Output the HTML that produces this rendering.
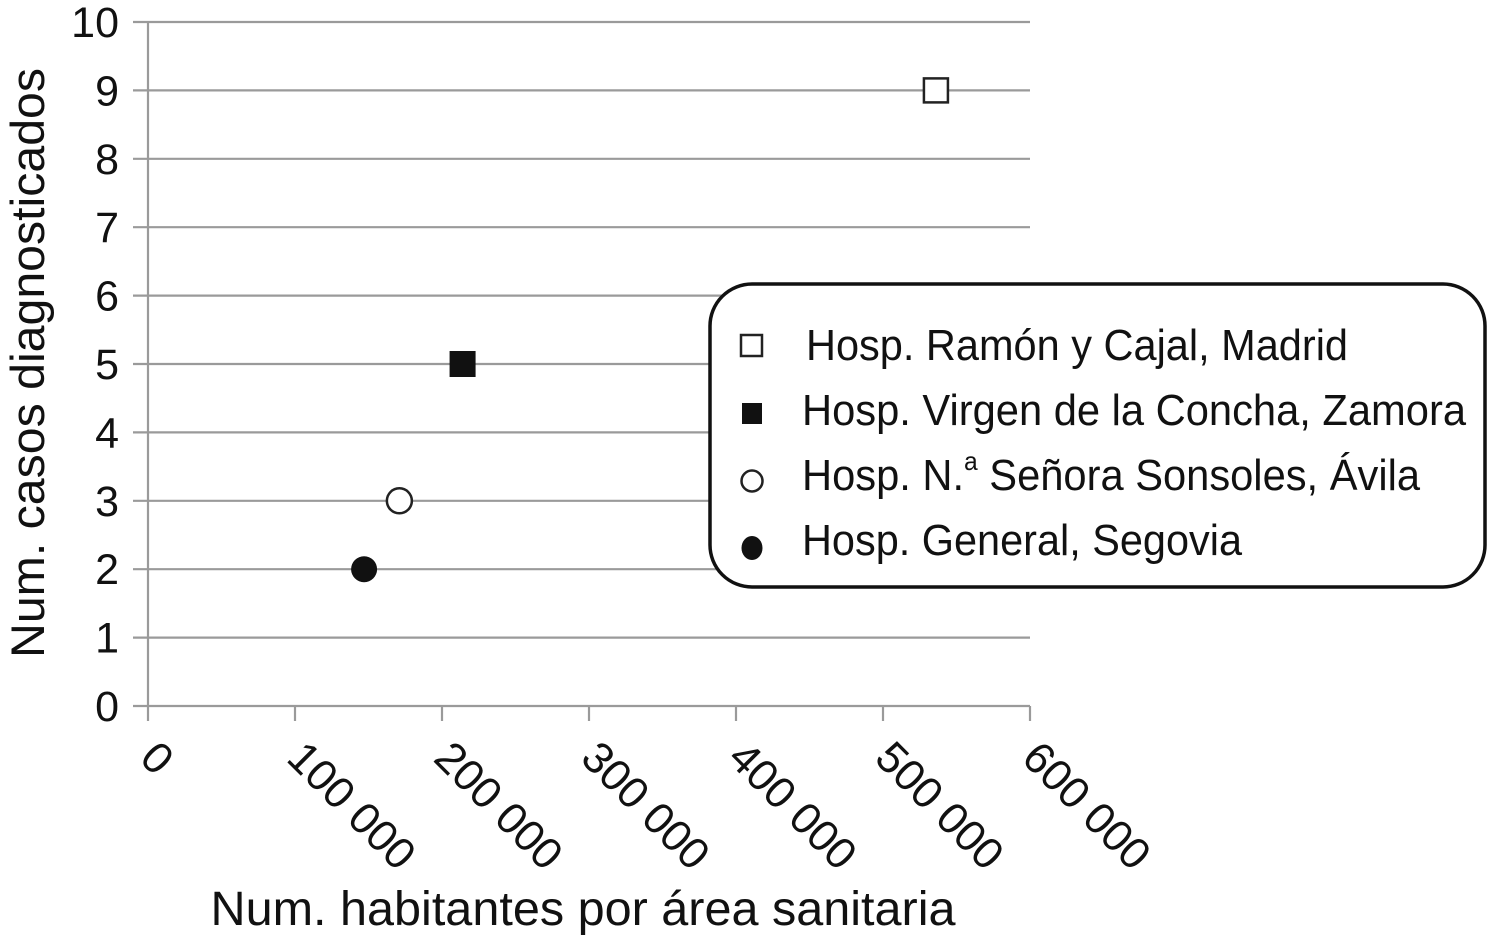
<!DOCTYPE html>
<html><head><meta charset="utf-8"><style>
html,body{margin:0;padding:0;background:#fff;}
svg{display:block;font-family:"Liberation Sans",sans-serif;}
</style></head><body>
<svg id="chart" width="1488" height="947" viewBox="0 0 1488 947">
<g id="grid"></g>
<g id="axes"></g>
<g id="points"></g>
<text x="44" y="363" font-size="47" text-anchor="middle" textLength="590" lengthAdjust="spacingAndGlyphs" transform="rotate(-90 44 363)" fill="#111">Num. casos diagnosticados</text>
<text x="583" y="925" font-size="48" text-anchor="middle" textLength="745" lengthAdjust="spacingAndGlyphs" fill="#111">Num. habitantes por área sanitaria</text>
<g>
<rect x="710" y="284" width="775" height="303" rx="42" ry="42" fill="#fff" stroke="#111" stroke-width="3.5"/>
<g>
<rect x="741" y="335" width="21" height="21" fill="#fff" stroke="#222" stroke-width="2.5"/>
<text x="806" y="360" font-size="44" textLength="542" lengthAdjust="spacingAndGlyphs" fill="#111">Hosp. Ramón y Cajal, Madrid</text></g>
<g>
<rect x="742" y="403" width="20" height="21" fill="#111"/>
<text x="802" y="425" font-size="44" textLength="664" lengthAdjust="spacingAndGlyphs" fill="#111">Hosp. Virgen de la Concha, Zamora</text></g>
<g>
<circle cx="752" cy="481" r="10.5" fill="#fff" stroke="#222" stroke-width="2.5"/>
<text x="802" y="490" font-size="44" textLength="618" lengthAdjust="spacingAndGlyphs" fill="#111">Hosp. N.<tspan dy="-20" font-size="26">a</tspan><tspan dy="20"> Señora Sonsoles, Ávila</tspan></text></g>
<g>
<ellipse cx="752" cy="548" rx="10.5" ry="12" fill="#111"/>
<text x="802" y="555" font-size="44" textLength="440" lengthAdjust="spacingAndGlyphs" fill="#111">Hosp. General, Segovia</text></g>
</g>
</svg>
<script>
const xTicks=[0,100000,200000,300000,400000,500000,600000];
const xTickLabels=["0","100 000","200 000","300 000","400 000","500 000","600 000"];
const yTicks=[0,1,2,3,4,5,6,7,8,9,10];
const names=["madrid","zamora","avila","segovia"];
const xValues=[536000,214000,171000,147000];
const yValues=[9,5,3,2];
const markers=["square-open","square-filled","circle-open","circle-filled"];
const NS="http://www.w3.org/2000/svg";
const X0=148,X1=1030,Y0=706,Y1=22;
function sx(v){return X0+(v-0)/600000*(X1-X0);}
function sy(v){return Y0-(v-0)/10*(Y0-Y1);}
function mk(t,a,p){const e=document.createElementNS(NS,t);for(const k in a)e.setAttribute(k,a[k]);p.appendChild(e);return e;}
const grid=document.getElementById('grid'),axes=document.getElementById('axes'),pts=document.getElementById('points');
yTicks.forEach((t)=>{
  const l=mk('line',{x1:133,x2:X1,y1:sy(t),y2:sy(t),stroke:'#9a9a9a','stroke-width':2.2},grid);
  
  
  const tx=mk('text',{x:119,y:sy(t)+15,'font-size':43,'text-anchor':'end',fill:'#111'},axes);
  tx.textContent=String(t);
  
  
});
const ya=mk('line',{x1:X0,x2:X0,y1:Y1,y2:Y0,stroke:'#9a9a9a','stroke-width':2.2},axes);


xTicks.forEach((t,i)=>{
  const x=sx(t);
  const l=mk('line',{x1:x,x2:x,y1:Y0,y2:721,stroke:'#9a9a9a','stroke-width':2.2},axes);
  
  
  const tx=mk('text',{x:x-10,y:760,'font-size':44,fill:'#111',transform:`rotate(45 ${x-10} 760)`},axes);
  tx.textContent=xTickLabels[i];
  
  
});
xValues.forEach((v,i)=>{
  const cx=sx(v),cy=sy(yValues[i]);let e;
  if(markers[i]==='square-open')e=mk('rect',{x:cx-12,y:cy-12,width:24,height:24,fill:'#fff',stroke:'#222','stroke-width':2.5},pts);
  else if(markers[i]==='square-filled')e=mk('rect',{x:cx-13,y:cy-13,width:26,height:26,fill:'#111'},pts);
  else if(markers[i]==='circle-open')e=mk('circle',{cx:cx,cy:cy,r:12.5,fill:'#fff',stroke:'#222','stroke-width':2.5},pts);
  else e=mk('circle',{cx:cx,cy:cy,r:13,fill:'#111'},pts);
  
  
});
</script>
</body></html>
